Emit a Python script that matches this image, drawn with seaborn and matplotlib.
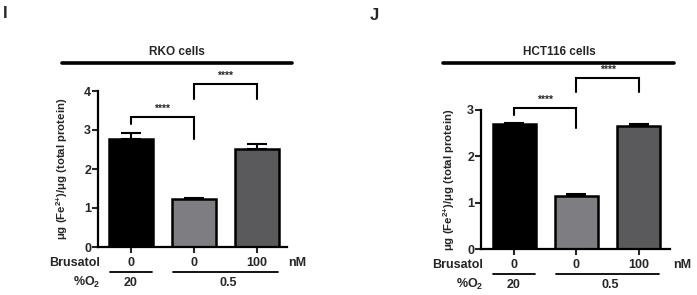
import matplotlib
matplotlib.use("Agg")
import matplotlib.pyplot as plt
import seaborn as sns
import numpy as np
from matplotlib.lines import Line2D

sns.set_style("white")
plt.rcParams['font.family'] = ['Liberation Sans', 'DejaVu Sans']
plt.rcParams['font.weight'] = 'bold'
plt.rcParams['mathtext.fontset'] = 'custom'
plt.rcParams['mathtext.rm'] = 'Liberation Sans:bold'
plt.rcParams['mathtext.it'] = 'Liberation Sans:bold'
plt.rcParams['mathtext.bf'] = 'Liberation Sans:bold'

# ---- data ----
conditions = ["ctrl_20", "ctrl_0.5", "brus_0.5"]
brusatol_nM = ["0", "0", "100"]
o2_groups = ["20", "0.5"]
bar_colors = ["#000000", "#7e7e82", "#5a5a5c"]

rko_mean = [2.78, 1.23, 2.51]
rko_sd = [0.14, 0.02, 0.13]
hct_mean = [2.69, 1.15, 2.66]
hct_sd = [0.03, 0.04, 0.03]

W, H = 697, 295
fig = plt.figure(figsize=(W / 100, H / 100), dpi=100)


def px_axes(l, r, top, bottom):
    return fig.add_axes([l / W, 1 - bottom / H, (r - l) / W, (bottom - top) / H])


def fx(x):
    return x / W


def fy(y):
    return 1 - y / H


def panel(ax, means, sds, ymax, xlim, title, tcx, tline, brackets, hpx,
          ylab_x, letter, letter_xy, brus_x, nm_x):
    sns.barplot(x=conditions, y=means, hue=conditions, palette=bar_colors,
                edgecolor="black", linewidth=1.8, width=0.69, legend=False,
                errorbar=None, ax=ax, saturation=1)
    ax.errorbar(x=np.arange(3), y=means, yerr=[np.zeros(3), sds], fmt="none",
                ecolor="black", elinewidth=1.5, capsize=7.5, capthick=1.5,
                zorder=1)
    ax.set_ylim(0, ymax)
    ax.set_xlim(*xlim)
    ax.set_yticks(range(ymax + 1))
    ax.set_yticklabels([str(v) for v in range(ymax + 1)], fontsize=9,
                       fontweight="bold")
    ax.set_xticks(range(3))
    ax.set_xticklabels(brusatol_nM, fontsize=9, fontweight="bold")
    ax.tick_params(axis="both", direction="out", length=4, width=1.5,
                   pad=1.0, left=True, bottom=True)
    ax.tick_params(axis="x", pad=3)
    for s in ["top", "right"]:
        ax.spines[s].set_visible(False)
    for s in ["left", "bottom"]:
        ax.spines[s].set_linewidth(1.6)
        ax.spines[s].set_color("black")
    ax.set_xlabel("")
    ax.set_ylabel("")
    height_px = ax.get_position().height * H
    unit_px = height_px / ymax
    # y label
    fig.text(fx(ylab_x[0]), fy(ylab_x[1]),
             r"μg (Fe$^{2{+}}$)/μg (total protein)", rotation=90,
             ha="center", va="center", fontsize=8.2, fontweight="bold")
    # brackets
    for (x1, x2, ytop, yb1, yb2) in brackets:
        ax.plot([x1, x1, x2, x2], [yb1, ytop, ytop, yb2], color="black",
                lw=1.5, clip_on=False, solid_joinstyle="miter")
        ax.text((x1 + x2) / 2, ytop + 8 / unit_px, "****",
                ha="center", va="center", fontsize=7.5, fontweight="bold")
    # title and line
    fig.text(fx(tcx), fy(52), title, ha="center", va="center", fontsize=8.5,
             fontweight="bold")
    fig.add_artist(Line2D([fx(tline[0]), fx(tline[1])], [fy(63), fy(63)],
                          color="black", lw=2.6))
    # bottom annotations
    tr = ax.get_xaxis_transform()
    fig.text(fx(brus_x), fy(hpx + 16), "Brusatol", ha="right", va="center",
             fontsize=9, fontweight="bold")
    fig.text(fx(nm_x), fy(hpx + 16), "nM", ha="center", va="center",
             fontsize=9, fontweight="bold")
    fig.text(fx(brus_x), fy(hpx + 35), r"%O$_2$", ha="right", va="center",
             fontsize=9, fontweight="bold")
    yline = -25 / height_px
    ytext = -36 / height_px
    ax.plot([-0.33, 0.33], [yline, yline], transform=tr, color="black",
            lw=1.3, clip_on=False)
    ax.plot([0.67, 2.33], [yline, yline], transform=tr, color="black",
            lw=1.3, clip_on=False)
    ax.text(0, ytext, o2_groups[0], transform=tr, ha="center", va="center",
            fontsize=9, fontweight="bold")
    ax.text(1.55, ytext, o2_groups[1], transform=tr, ha="center", va="center",
            fontsize=9, fontweight="bold")
    fig.text(fx(letter_xy[0]), fy(letter_xy[1]), letter, ha="left",
             va="center", fontsize=12, fontweight="bold")


ax1 = px_axes(98, 287, 91, 247)
panel(ax1, rko_mean, rko_sd, 4, (-0.524, 2.476), "RKO cells", 177, (62, 292),
      [(0, 1, 3.33, 3.15, 2.77), (1, 2, 4.18, 3.79, 3.79)], 247,
      (62, 169), "I", (3, 13), 100, 297)

ax2 = px_axes(481, 670, 110, 249)
panel(ax2, hct_mean, hct_sd, 3, (-0.53, 2.5), "HCT116 cells", 559, (443, 674),
      [(0, 1, 3.05, 2.89, 2.61), (1, 2, 3.69, 3.39, 3.39)], 249,
      (449, 180), "J", (370, 15), 483, 682)

fig.savefig("out.png", dpi=100)
